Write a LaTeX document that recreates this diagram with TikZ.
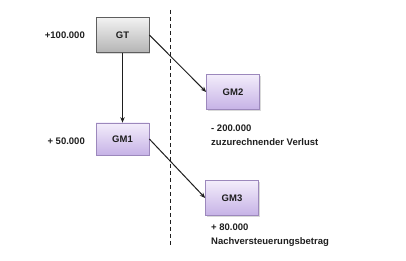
\documentclass[tikz,border=0pt]{standalone}
\usepackage{fontspec}
\setmainfont{Liberation Sans}
\usetikzlibrary{shadows,arrows.meta}
\definecolor{ptop}{HTML}{F3EDFB}
\definecolor{pbot}{HTML}{C6B2E6}
\definecolor{pline}{HTML}{9C88BC}
\definecolor{gtop}{HTML}{F2F2F2}
\definecolor{gbot}{HTML}{B4B4B4}
\definecolor{gline}{HTML}{5E5E5E}
\definecolor{txt}{HTML}{1E1E1E}
\tikzset{
  x=1pt,y=-1pt,
  gbox/.style={draw=gline,line width=0.7pt,minimum width=53pt,minimum height=35pt,inner sep=0pt,
    top color=gtop,bottom color=gbot,drop shadow={shadow xshift=1.2pt,shadow yshift=-1.2pt,opacity=0.3},text=txt,font=\bfseries\fontsize{9.5}{10}\selectfont},
  pbox/.style={gbox,draw=pline,top color=ptop,bottom color=pbot},
  lbl/.style={font=\bfseries\fontsize{9.5}{14}\selectfont,inner sep=0pt,text=txt},
  conn/.style={-{Stealth[length=5.5pt,width=4.5pt]},line width=1pt,draw=txt}
}
\begin{document}
\begin{tikzpicture}
\useasboundingbox (0,0) rectangle (406,261);
\node[gbox] (gt) at (122.5,35) {GT};
\node[pbox] (gm2) at (233,92) {GM2};
\node[pbox,minimum height=32pt] (gm1) at (122.5,139) {GM1};
\node[pbox] (gm3) at (232,198) {GM3};
\coordinate (ltop) at (170,10);
\coordinate (lbot) at (170,246);
\draw[line width=1pt,dash pattern=on 4pt off 3pt,draw=txt] (ltop) -- (lbot);
\node[lbl,anchor=east] (v1) at (85,35) {+100.000};
\node[lbl,anchor=east] (v2) at (85,141) {+ 50.000};
\node[lbl,anchor=west,align=left] (v3) at (211,135) {- 200.000\\zuzurechnender Verlust};
\node[lbl,anchor=west,align=left] (v4) at (211,235.5) {+ 80.000\\Nachversteuerungsbetrag};
\draw[conn] (gt.south) -- (gm1.north);
\draw[conn] (gt.east) -- (gm2.west);
\draw[conn] (gm1.east) -- (gm3.west);
\end{tikzpicture}
\end{document}
